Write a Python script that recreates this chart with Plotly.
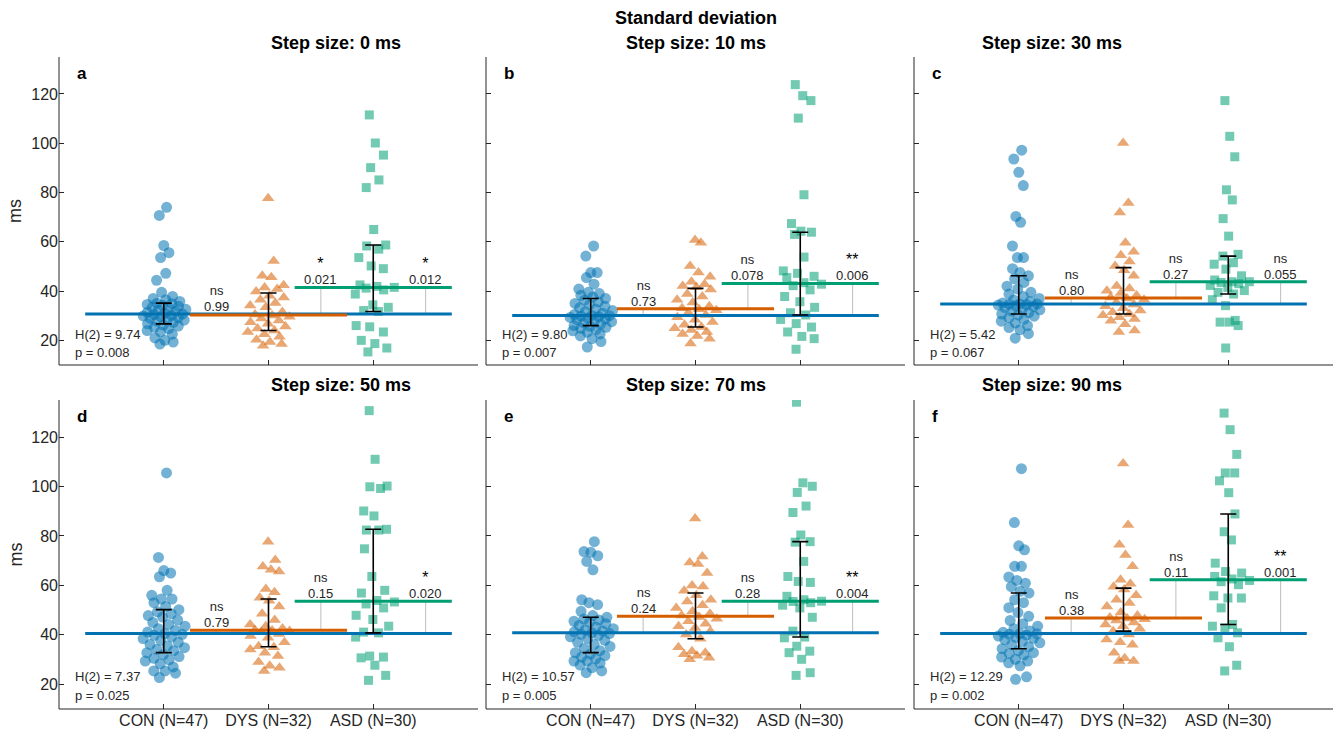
import numpy as np
import plotly.graph_objects as go

# ---------------- data ----------------
groups = ["CON (N=47)", "DYS (N=32)", "ASD (N=30)"]
step_titles = ["Step size: 0 ms", "Step size: 10 ms", "Step size: 30 ms",
               "Step size: 50 ms", "Step size: 70 ms", "Step size: 90 ms"]
panel_letters = ["a", "b", "c", "d", "e", "f"]
y_ticks = [20, 40, 60, 80, 100, 120]

# CON (N=47)
con_0 = [18.5, 19.3, 20.0, 21.0, 22.5, 23.4, 24.0, 24.8, 25.3, 25.8, 26.2, 26.7, 27.3, 27.8, 28.2, 28.6,
         29.0, 29.3, 29.6, 29.9, 30.1, 30.5, 30.7, 31.0, 31.4, 31.8, 32.2, 32.6, 33.0, 33.4, 33.8, 34.2,
         34.6, 34.9, 35.1, 35.8, 36.5, 37.0, 37.8, 39.5, 44.4, 47.2, 53.6, 55.6, 58.5, 70.7, 74.0]
con_10 = [17.3, 19.5, 20.7, 21.8, 22.6, 23.3, 23.9, 24.4, 24.9, 25.3, 25.7, 26.0, 26.6, 27.1, 27.6, 28.0,
          28.4, 28.7, 29.0, 29.3, 29.6, 29.8, 30.0, 30.1, 30.5, 31.0, 31.6, 32.1, 32.7, 33.2, 33.8, 34.4,
          35.0, 35.6, 36.3, 37.0, 37.6, 38.3, 39.0, 39.5, 40.8, 42.8, 45.5, 47.5, 47.5, 54.2, 58.3]
con_30 = [20.9, 22.7, 24.3, 25.2, 26.0, 27.0, 27.8, 28.5, 29.2, 29.8, 30.3, 30.7, 31.3, 31.9, 32.4, 32.9,
          33.3, 33.7, 34.0, 34.3, 34.5, 34.7, 34.8, 34.8, 35.2, 35.8, 36.4, 37.0, 37.8, 38.8, 39.5, 40.8,
          42.0, 43.5, 45.0, 46.2, 47.5, 49.1, 53.6, 53.6, 58.3, 67.9, 70.3, 82.8, 88.2, 93.6, 97.2]
con_50 = [22.7, 24.5, 25.4, 25.4, 27.0, 28.3, 29.4, 29.9, 30.5, 31.2, 32.0, 32.8, 33.6, 34.1, 34.8, 35.5,
          36.1, 37.0, 37.8, 38.5, 39.2, 39.8, 40.2, 40.5, 41.1, 41.8, 42.5, 43.5, 44.2, 45.0, 46.0, 47.2,
          47.8, 48.5, 49.3, 50.2, 51.5, 53.0, 54.5, 54.5, 56.0, 58.0, 63.5, 65.0, 66.0, 71.3, 105.5]
con_70 = [24.7, 25.4, 26.7, 27.8, 28.6, 29.4, 29.4, 30.3, 31.0, 31.6, 32.2, 32.8, 33.6, 34.5, 35.3, 36.1,
          37.0, 37.8, 38.5, 39.2, 39.8, 40.2, 40.5, 40.8, 41.2, 41.6, 42.0, 42.5, 43.2, 43.8, 44.5, 45.0,
          45.5, 46.0, 46.4, 47.1, 47.8, 49.5, 52.2, 53.0, 54.2, 66.3, 69.7, 72.0, 73.4, 73.7, 77.7]
con_90 = [22.0, 23.0, 27.5, 28.7, 29.4, 30.1, 31.0, 31.8, 32.5, 32.8, 33.6, 34.4, 35.2, 36.0, 36.8, 37.4,
          38.0, 38.6, 39.0, 39.5, 39.9, 40.2, 40.4, 40.5, 41.0, 41.6, 42.5, 43.5, 44.5, 45.8, 47.5, 49.0,
          51.0, 53.0, 54.2, 56.9, 57.6, 59.5, 60.9, 62.0, 63.4, 67.7, 67.7, 74.4, 76.0, 85.4, 107.2]

# DYS (N=32)
dys_0 = [17.8, 18.5, 19.3, 20.2, 21.5, 22.5, 23.4, 24.0, 24.8, 25.6, 26.7, 27.4, 28.1, 28.9, 29.6, 30.1,
         30.5, 31.5, 33.4, 34.1, 35.2, 36.5, 37.4, 38.1, 39.8, 40.8, 41.5, 42.4, 45.6, 46.2, 52.2, 77.7]
dys_10 = [18.7, 20.7, 21.8, 22.6, 23.4, 24.2, 24.9, 25.4, 26.3, 27.5, 28.4, 29.4, 30.3, 31.2, 32.2, 32.6,
          33.0, 33.8, 35.4, 36.5, 37.8, 38.8, 40.6, 41.6, 42.1, 42.8, 43.8, 45.8, 47.5, 50.2, 59.6, 60.7]
dys_30 = [23.4, 24.0, 26.5, 28.0, 28.7, 29.4, 30.2, 30.7, 31.4, 32.1, 33.0, 33.8, 34.6, 35.4, 36.5, 37.0,
          37.4, 38.2, 39.2, 40.1, 41.0, 42.1, 46.2, 48.5, 50.2, 52.0, 54.5, 56.0, 59.6, 71.9, 75.7, 100.1]
dys_50 = [25.4, 26.7, 27.5, 29.0, 31.4, 32.8, 34.1, 35.0, 35.4, 37.0, 38.8, 39.5, 40.3, 41.0, 41.6, 41.8,
          42.0, 42.6, 43.5, 44.2, 46.0, 48.5, 51.5, 53.8, 55.0, 57.2, 58.5, 65.6, 66.3, 67.6, 70.3, 77.7]
dys_70 = [30.1, 30.7, 31.5, 32.1, 32.8, 33.4, 35.0, 38.4, 40.1, 41.5, 42.8, 43.5, 44.5, 45.5, 46.5, 47.2,
          47.8, 48.5, 49.5, 50.9, 52.0, 53.5, 54.2, 56.0, 57.8, 59.6, 60.0, 65.0, 68.7, 69.3, 71.7, 87.1]
dys_90 = [29.4, 29.4, 30.5, 32.8, 36.0, 37.0, 38.1, 40.1, 41.5, 42.5, 43.5, 44.2, 45.0, 45.8, 46.3, 46.6,
          47.0, 47.8, 49.0, 51.5, 52.9, 54.2, 56.0, 58.3, 59.5, 60.7, 62.3, 67.7, 72.3, 76.4, 84.4, 109.3]

# ASD (N=30)
asd_0 = [15.3, 16.9, 18.7, 20.0, 23.4, 25.5, 26.0, 31.7, 32.1, 33.4, 34.4, 38.8, 40.5, 41.2, 41.5,
         41.9, 42.5, 49.1, 50.2, 53.6, 57.0, 58.3, 58.7, 65.0, 82.0, 85.1, 90.1, 95.2, 100.1, 111.5]
asd_10 = [16.4, 20.7, 21.6, 23.4, 25.4, 26.8, 28.5, 30.3, 31.2, 33.4, 35.7, 37.8, 40.5, 42.2, 42.8,
          43.4, 45.5, 46.0, 47.2, 48.2, 53.8, 63.0, 63.9, 64.3, 67.4, 79.1, 110.2, 117.3, 119.3, 123.8]
asd_30 = [16.9, 26.0, 27.4, 27.4, 28.1, 34.1, 36.5, 38.8, 39.5, 40.2, 41.5, 42.3, 43.0, 43.5, 43.8,
          43.8, 44.5, 46.2, 48.9, 50.9, 51.5, 54.2, 54.9, 62.3, 69.4, 77.0, 81.1, 94.5, 102.8, 117.3]
asd_50 = [21.6, 23.6, 27.7, 30.7, 31.4, 31.0, 39.1, 40.8, 41.1, 43.5, 46.2, 47.9, 50.9, 52.5, 53.3,
          53.9, 56.9, 58.0, 63.6, 74.8, 82.4, 82.4, 82.7, 88.1, 90.1, 99.2, 99.9, 100.2, 111.0, 130.7]
asd_70 = [23.6, 24.7, 30.1, 32.8, 33.4, 35.4, 38.8, 39.1, 41.5, 47.1, 50.9, 52.0, 53.0, 53.5, 53.6,
          54.2, 55.6, 61.2, 61.6, 63.6, 69.7, 77.5, 77.7, 80.4, 89.5, 92.1, 97.6, 100.1, 101.5, 134.1]
asd_90 = [25.4, 27.7, 35.2, 38.8, 40.8, 42.8, 43.5, 44.2, 50.9, 54.9, 54.9, 55.8, 60.3, 61.5, 62.0,
          62.6, 63.6, 65.0, 65.6, 69.0, 78.4, 81.7, 88.9, 97.5, 102.3, 105.5, 105.5, 113.0, 123.0, 129.7]

# medians and quartiles per panel (a..f)
con_median = [30.7, 30.1, 34.8, 40.5, 40.8, 40.5]
con_q1 = [26.7, 26.0, 30.7, 32.8, 32.8, 34.4]
con_q3 = [35.1, 37.0, 46.2, 50.2, 47.1, 56.9]
dys_median = [30.3, 32.8, 37.2, 41.9, 47.5, 46.8]
dys_q1 = [24.0, 25.4, 30.7, 35.2, 38.4, 41.5]
dys_q3 = [39.2, 41.1, 49.5, 54.5, 56.9, 58.9]
asd_median = [41.5, 43.1, 43.8, 53.6, 53.6, 62.3]
asd_q1 = [31.7, 30.3, 38.8, 40.8, 39.1, 44.2]
asd_q3 = [58.7, 63.9, 54.2, 82.7, 77.7, 88.9]

# Kruskal-Wallis and pairwise results
h_stat = ["9.74", "9.80", "5.42", "7.37", "10.57", "12.29"]
h_pval = ["0.008", "0.007", "0.067", "0.025", "0.005", "0.002"]
# order: CON-DYS, DYS-ASD, CON-ASD
pair_p = [["0.99", "0.021", "0.012"], ["0.73", "0.078", "0.006"], ["0.80", "0.27", "0.055"],
          ["0.79", "0.15", "0.020"], ["0.24", "0.28", "0.004"], ["0.38", "0.11", "0.001"]]
pair_sig = [["ns", "*", "*"], ["ns", "ns", "**"], ["ns", "ns", "ns"],
            ["ns", "ns", "*"], ["ns", "ns", "**"], ["ns", "ns", "**"]]

con_data = [con_0, con_10, con_30, con_50, con_70, con_90]
dys_data = [dys_0, dys_10, dys_30, dys_50, dys_70, dys_90]
asd_data = [asd_0, asd_10, asd_30, asd_50, asd_70, asd_90]

# ---------------- styling ----------------
FONT = "Liberation Sans, Arial, Helvetica, sans-serif"
AX = "#262626"
C_BLUE = "#0072B2"
C_ORANGE = "#D55E00"
C_GREEN = "#009E73"
group_colors = [C_BLUE, C_ORANGE, C_GREEN]
group_symbols = ["circle", "triangle-up", "square"]
group_sizes = [11, 11, 9]


def swarm_offsets(vals, width=0.22, bw=4.5):
    """Deterministic density-scaled spread (no random numbers)."""
    v = np.asarray(vals, dtype=float)
    d = np.exp(-0.5 * ((v[:, None] - v[None, :]) / bw) ** 2).sum(axis=1)
    dn = d / d.max()
    order = np.argsort(v, kind="stable")
    u = np.empty(len(v))
    for k, idx in enumerate(order):
        u[idx] = ((k * 0.6180339887 + 0.31) % 1.0) * 2 - 1
    return width * (0.2 + 0.8 * dn) * u


W, H = 1334, 736
ML, MR, MT, MB = 59, 1, 57, 27
PW = W - ML - MR
PH = H - MT - MB
x_px = [(59, 478), (486, 905), (914, 1333)]
y_px = [(57, 365), (400, 709)]
xdom = [[(a - ML) / PW, (b - ML) / PW] for a, b in x_px]
ydom = [[(H - MB - b) / PH, (H - MB - a) / PH] for a, b in y_px]

fig = go.Figure()
annotations = []
shapes = []

for i in range(6):
    r, c = divmod(i, 3)
    sfx = "" if i == 0 else str(i + 1)
    xr, yr = "x" + sfx, "y" + sfx
    datasets = [con_data[i], dys_data[i], asd_data[i]]
    meds = [con_median[i], dys_median[i], asd_median[i]]
    q1s = [con_q1[i], dys_q1[i], asd_q1[i]]
    q3s = [con_q3[i], dys_q3[i], asd_q3[i]]

    # points
    for g in range(3):
        vals = datasets[g]
        xs = (g + 1) + swarm_offsets(vals)
        fig.add_trace(go.Scatter(
            x=xs, y=vals, mode="markers", xaxis=xr, yaxis=yr, showlegend=False,
            marker=dict(symbol=group_symbols[g], size=group_sizes[g], color=group_colors[g],
                        opacity=0.55, line=dict(width=0)),
            hoverinfo="skip"))

    # gray connectors between medians
    pairs = [(0, 1, 1.5), (1, 2, 2.5), (0, 2, 3.5)]
    for a, b, xp in pairs:
        lo, hi = sorted([meds[a], meds[b]])
        fig.add_trace(go.Scatter(x=[xp, xp], y=[lo, hi], mode="lines", xaxis=xr, yaxis=yr,
                                 line=dict(color="#BDBDBD", width=1), showlegend=False,
                                 hoverinfo="skip"))

    # median lines
    spans = [(0.25, 3.75), (1.25, 2.75), (2.25, 3.75)]
    for g in range(3):
        fig.add_trace(go.Scatter(x=list(spans[g]), y=[meds[g], meds[g]], mode="lines",
                                 xaxis=xr, yaxis=yr, line=dict(color=group_colors[g], width=3),
                                 showlegend=False, hoverinfo="skip"))

    # IQR error bars
    fig.add_trace(go.Scatter(
        x=[1, 2, 3], y=meds, mode="markers", xaxis=xr, yaxis=yr, showlegend=False,
        marker=dict(size=1, color="rgba(0,0,0,0)"),
        error_y=dict(type="data", symmetric=False,
                     array=[q3s[g] - meds[g] for g in range(3)],
                     arrayminus=[meds[g] - q1s[g] for g in range(3)],
                     color="black", thickness=1.6, width=8),
        hoverinfo="skip"))

    # pairwise annotations (significance label above p-value, one two-line text)
    for k, (a, b, xp) in enumerate(pairs):
        top = max(meds[a], meds[b])
        sig = pair_sig[i][k]
        p_span = "<span style='font-size:13px'>" + pair_p[i][k] + "</span>"
        if sig == "ns":
            txt = "<span style='font-size:13px'>ns</span><br>" + p_span
            base = 12.3
        else:
            txt = "<span style='font-size:16px;color:black'>" + sig + "</span><br>" + p_span
            base = 11.9
        annotations.append(dict(x=xp, y=top, xref=xr, yref=yr, text=txt,
                                showarrow=False, yanchor="bottom", yshift=-2,
                                font=dict(family=FONT, size=base, color=AX)))

    # H statistic
    hy = [0.10, 0.105][r]
    py = [0.039, 0.045][r]
    annotations.append(dict(x=0.033, y=hy, xref=xr + " domain", yref=yr + " domain",
                            text="H(2) = " + h_stat[i], showarrow=False, xanchor="left",
                            yanchor="middle", font=dict(family=FONT, size=13, color=AX)))
    annotations.append(dict(x=0.033, y=py, xref=xr + " domain", yref=yr + " domain",
                            text="p = " + h_pval[i], showarrow=False, xanchor="left",
                            yanchor="middle", font=dict(family=FONT, size=13, color=AX)))
    # panel letter
    annotations.append(dict(x=0.038, y=0.948, xref=xr + " domain", yref=yr + " domain",
                            text="<b>" + panel_letters[i] + "</b>", showarrow=False,
                            xanchor="left", yanchor="middle",
                            font=dict(family=FONT, size=17, color="black")))
    # panel title
    ty_px = [43, 385][r]
    annotations.append(dict(x=(xdom[c][0] + xdom[c][1]) / 2, y=(H - MB - ty_px) / PH,
                            xref="paper", yref="paper", text="<b>" + step_titles[i] + "</b>",
                            showarrow=False, yanchor="middle",
                            font=dict(family=FONT, size=18, color="black")))

    # axis lines (left and bottom only)
    shapes.append(dict(type="line", xref=xr + " domain", yref=yr + " domain",
                       x0=0, x1=0, y0=0, y1=1, line=dict(color=AX, width=1), layer="above"))
    shapes.append(dict(type="line", xref=xr + " domain", yref=yr + " domain",
                       x0=0, x1=1, y0=0, y1=0, line=dict(color=AX, width=1), layer="above"))

    fig.layout["xaxis" + sfx] = dict(
        domain=xdom[c], anchor=yr, range=[0, 4], tickvals=[1, 2, 3],
        ticktext=groups, showticklabels=(r == 1), ticks="inside", ticklen=5,
        tickcolor=AX, showline=False, mirror=False, showgrid=False, zeroline=False,
        tickfont=dict(family=FONT, size=16, color=AX))
    fig.layout["yaxis" + sfx] = dict(
        domain=ydom[r], anchor=xr, range=[10, 135], tickvals=y_ticks,
        showticklabels=(c == 0), ticks="inside", ticklen=5, tickcolor=AX,
        showline=False, mirror=False, showgrid=False, zeroline=False,
        tickfont=dict(family=FONT, size=16, color=AX))

# y-axis titles
for r in range(2):
    cy = (ydom[r][0] + ydom[r][1]) / 2
    annotations.append(dict(x=(15 - ML) / PW, y=cy, xref="paper", yref="paper", text="ms",
                            textangle=-90, showarrow=False, xanchor="center", yanchor="middle",
                            font=dict(family=FONT, size=18, color=AX)))

# main title
annotations.append(dict(x=(xdom[1][0] + xdom[1][1]) / 2, y=(H - MB - 18) / PH, xref="paper",
                        yref="paper", text="<b>Standard deviation</b>", showarrow=False,
                        yanchor="middle", font=dict(family=FONT, size=18, color="black")))

fig.update_layout(width=W, height=H, margin=dict(l=ML, r=MR, t=MT, b=MB),
                  template="none",
                  plot_bgcolor="white", paper_bgcolor="white", showlegend=False,
                  annotations=annotations, shapes=shapes, font=dict(family=FONT))

fig.write_html("out.html", config={"displayModeBar": False},
               post_script="document.body.style.margin='0px';document.body.style.overflow='hidden';")
